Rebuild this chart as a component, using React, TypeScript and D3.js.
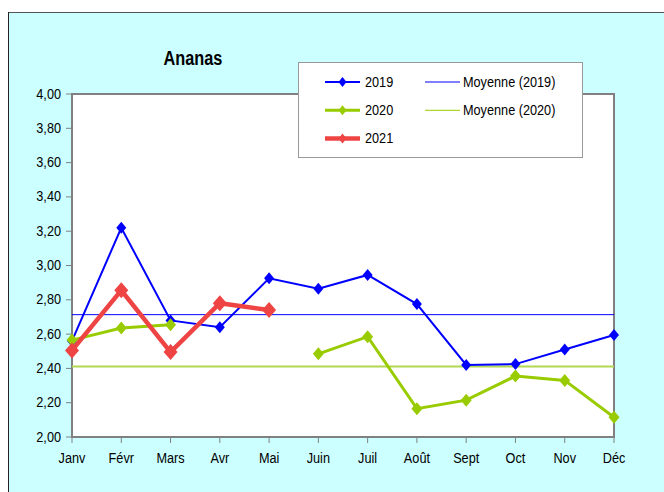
import React from "react";
import * as d3 from "d3";

const months = ["Janv", "Févr", "Mars", "Avr", "Mai", "Juin", "Juil", "Août", "Sept", "Oct", "Nov", "Déc"];
const values2019: (number | null)[] = [2.56, 3.22, 2.68, 2.64, 2.925, 2.865, 2.945, 2.775, 2.42, 2.425, 2.51, 2.595];
const values2020: (number | null)[] = [2.565, 2.635, 2.655, null, null, 2.485, 2.585, 2.165, 2.215, 2.355, 2.33, 2.115];
const values2021: (number | null)[] = [2.505, 2.855, 2.495, 2.78, 2.74, null, null, null, null, null, null, null];
const yTicks = [2.0, 2.2, 2.4, 2.6, 2.8, 3.0, 3.2, 3.4, 3.6, 3.8, 4.0];
const title = "Ananas";

const W = 664, H = 492;
const left = 72, right = 614, top = 94, bottom = 437;

const x = d3.scalePoint<string>().domain(months).range([left, right]);
const y = d3.scaleLinear().domain([2, 4]).range([bottom, top]);

const fmt = (v: number) => v.toFixed(2).replace(".", ",");

type Series = { name: string; data: (number | null)[]; color: string; width: number; hw: number; hh: number };
const series: Series[] = [
  { name: "2019", data: values2019, color: "#0000FF", width: 2, hw: 5, hh: 6 },
  { name: "2020", data: values2020, color: "#99CC00", width: 3, hw: 5.5, hh: 6.5 },
  { name: "2021", data: values2021, color: "#EE4444", width: 4.5, hw: 7, hh: 8 },
];

const mean2019 = d3.mean(values2019.filter((v) => v != null) as number[]) as number;
const mean2020 = d3.mean(values2020.filter((v) => v != null) as number[]) as number;

const diamond = (cx: number, cy: number, hw: number, hh: number) =>
  `M${cx},${cy - hh}L${cx + hw},${cy}L${cx},${cy + hh}L${cx - hw},${cy}Z`;

const FONT = "'Liberation Sans', Arial, sans-serif";

function T({ x: tx, y: ty, children, anchor = "start", size = 12.7, sy = 1.18, weight = "normal" }: any) {
  return (
    <text
      transform={`translate(${tx},${ty}) scale(1,${sy})`}
      textAnchor={anchor}
      fontSize={size}
      fontFamily={FONT}
      fontWeight={weight}
      fill="#000"
    >
      {children}
    </text>
  );
}

export default function App() {
  const line = d3
    .line<number | null>()
    .defined((d) => d != null)
    .x((_, i) => x(months[i]) as number)
    .y((d) => y(d as number));

  return (
    <svg width={W} height={H} style={{ position: "absolute", left: 0, top: 0 }}>
      <rect x={0} y={0} width={W} height={H} fill="#FFFFFF" />
      <rect x={8} y={12} width={W - 8} height={H - 12} fill="#CCFFFF" />
      <line x1={8} y1={12.5} x2={W} y2={12.5} stroke="#555" strokeWidth={1} />
      <line x1={8.5} y1={12} x2={8.5} y2={H} stroke="#222" strokeWidth={1} />

      {/* plot area */}
      <rect x={left} y={top} width={right - left} height={bottom - top} fill="#FFFFFF" stroke="#808080" strokeWidth={2} />

      {/* y ticks */}
      {yTicks.map((t) => (
        <g key={t}>
          <line x1={left - 6} x2={left} y1={y(t)} y2={y(t)} stroke="#808080" strokeWidth={1} />
          <T x={61} y={y(t) + 4.5} anchor="end">{fmt(t)}</T>
        </g>
      ))}

      {/* x ticks */}
      {months.map((m) => (
        <g key={m}>
          <line x1={x(m)} x2={x(m)} y1={bottom} y2={bottom + 6} stroke="#808080" strokeWidth={1} />
          <T x={x(m)} y={463} anchor="middle">{m}</T>
        </g>
      ))}

      {/* mean lines */}
      <line x1={left} x2={right} y1={y(mean2019)} y2={y(mean2019)} stroke="#0000FF" strokeWidth={1} />
      <line x1={left} x2={right} y1={y(mean2020)} y2={y(mean2020)} stroke="#B0D850" strokeWidth={2} />

      {/* series */}
      {series.map((s) => (
        <g key={s.name}>
          <path d={line(s.data) || ""} fill="none" stroke={s.color} strokeWidth={s.width} strokeLinejoin="miter" />
          {s.data.map((v, i) =>
            v == null ? null : (
              <path key={i} d={diamond(x(months[i]) as number, y(v), s.hw, s.hh)} fill={s.color} />
            )
          )}
        </g>
      ))}

      {/* title */}
      <T x={193} y={65} anchor="middle" size={16.3} sy={1.25} weight="bold">{title}</T>

      {/* legend */}
      <rect x={298.5} y={62.5} width={284} height={95} fill="#FFFFFF" stroke="#999" strokeWidth={1} />
      {series.map((s, i) => {
        const ly = 82 + i * 28.3;
        return (
          <g key={s.name}>
            <line x1={325} x2={360} y1={ly} y2={ly} stroke={s.color} strokeWidth={s.width} />
            <path d={diamond(342.5, ly, 4, 5)} fill={s.color} />
            <T x={365} y={ly + 4.5}>{s.name}</T>
          </g>
        );
      })}
      {[{ name: "Moyenne (2019)", color: "#0000FF", w: 1 }, { name: "Moyenne (2020)", color: "#99CC00", w: 1 }].map((m, i) => {
        const ly = 82 + i * 28.3;
        return (
          <g key={m.name}>
            <line x1={425} x2={460} y1={ly} y2={ly} stroke={m.color} strokeWidth={m.w} />
            <T x={463} y={ly + 4.5}>{m.name}</T>
          </g>
        );
      })}
    </svg>
  );
}
